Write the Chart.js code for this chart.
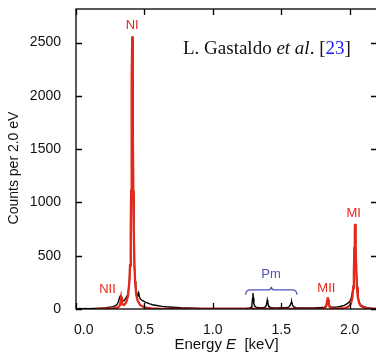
<!DOCTYPE html>
<html>
<head>
<meta charset="utf-8">
<script src="https://cdn.jsdelivr.net/npm/chart.js@4.4.1/dist/chart.umd.min.js"></script>
<style>
  html, body { margin: 0; padding: 0; overflow: hidden; background: #fff; }
  canvas { display: block; }
</style>
</head>
<body>
<canvas id="spectrum" width="378" height="353"></canvas>
<script>
// Spectre mesuré (noir) et modèle (rouge), énergies en keV
const dataEnergy = [0.01, 0.03, 0.05, 0.07, 0.09, 0.11, 0.13, 0.15, 0.17, 0.19, 0.21, 0.23, 0.25, 0.27, 0.285,
  0.30, 0.31, 0.318, 0.324, 0.33, 0.336, 0.343, 0.35, 0.357, 0.365, 0.372, 0.378, 0.384, 0.39, 0.395,
  0.40, 0.403, 0.406, 0.408, 0.411, 0.414, 0.416, 0.419, 0.422, 0.427, 0.432, 0.437, 0.442, 0.447, 0.452,
  0.456, 0.46, 0.466, 0.472, 0.48, 0.49, 0.50, 0.51, 0.525, 0.54, 0.56, 0.58, 0.60, 0.63, 0.66,
  0.70, 0.74, 0.78, 0.82, 0.87, 0.92, 0.97, 1.02, 1.07, 1.12, 1.17, 1.21, 1.25, 1.27, 1.28,
  1.286, 1.29, 1.293, 1.296, 1.30, 1.306, 1.315, 1.33, 1.35, 1.37, 1.385, 1.393, 1.398, 1.402, 1.408,
  1.42, 1.44, 1.47, 1.50, 1.53, 1.555, 1.566, 1.573, 1.577, 1.582, 1.59, 1.61, 1.65, 1.70, 1.75,
  1.79, 1.815, 1.828, 1.835, 1.84, 1.845, 1.852, 1.865, 1.88, 1.90, 1.93, 1.96, 1.98, 2.00, 2.01,
  2.02, 2.026, 2.031, 2.035, 2.038, 2.04, 2.042, 2.045, 2.049, 2.054, 2.06, 2.07, 2.08, 2.10, 2.13,
  2.16, 2.20];
const dataCounts = [2, 4, 3, 5, 3, 4, 6, 5, 8, 7, 11, 14, 18, 22, 30,
  42, 70, 105, 122, 115, 100, 80, 76, 88, 105, 118, 135, 180, 250, 400,
  690, 1070, 1670, 2130, 2540, 2130, 1670, 1080, 710, 410, 260, 180, 128, 118, 140,
  155, 138, 105, 92, 84, 76, 68, 62, 55, 48, 40, 35, 30, 25, 21,
  17, 14, 11, 9, 7, 6, 5, 5, 4, 5, 4, 6, 7, 10, 16,
  40, 95, 150, 105, 50, 28, 18, 14, 12, 13, 20, 45, 85, 60, 28,
  15, 12, 11, 12, 12, 18, 35, 60, 65, 40, 20, 12, 10, 11, 12,
  14, 18, 30, 75, 105, 70, 32, 18, 16, 18, 24, 34, 48, 68, 95,
  150, 215, 350, 565, 745, 790, 745, 565, 350, 210, 122, 65, 40, 22, 12,
  8, 6];

const modelEnergy = [0.15, 0.20, 0.25, 0.28, 0.30, 0.31, 0.32, 0.325, 0.33, 0.335, 0.34, 0.35, 0.36, 0.37,
  0.38, 0.39, 0.395, 0.40, 0.403, 0.406, 0.408, 0.411, 0.414, 0.416, 0.419, 0.422, 0.427, 0.432,
  0.44, 0.45, 0.47, 0.50, 0.55, 0.60, 0.70, 0.80, 1.00, 1.20, 1.40, 1.60, 1.70, 1.75, 1.78, 1.80,
  1.815, 1.825, 1.832, 1.837, 1.84, 1.843, 1.848, 1.855, 1.865, 1.88, 1.90, 1.93, 1.96, 1.98, 2.00,
  2.01, 2.02, 2.026, 2.031, 2.035, 2.038, 2.04, 2.042, 2.045, 2.049, 2.054, 2.06, 2.07, 2.08, 2.10,
  2.13, 2.16, 2.20];
const modelCounts = [1.9, 3.0, 5.2, 8.2, 12.6, 17.5, 32.7, 60.9, 107, 65.5, 42.2, 38.5, 49.7, 73.9,
  125, 257, 412, 738, 1110, 1695, 2162, 2560, 2162, 1695, 1110, 738, 412, 256,
  141, 80, 35.6, 15.8, 6.5, 3.5, 1.5, 0.8, 0.4, 0.1, 0.15, 0.33, 0.64, 1.1, 1.8, 3.3,
  6.9, 16.0, 40.0, 87.6, 109.3, 87.7, 40.2, 16.4, 7.6, 4.4, 3.7, 4.7, 8.2, 14.2, 31.0,
  53.2, 110, 197, 353, 575, 753, 800, 753, 575, 353, 197, 110, 53.1, 30.8, 14.0,
  6.3, 3.5, 2.0];

const xTicks = [0.0, 0.5, 1.0, 1.5, 2.0];
const yTicks = [0, 500, 1000, 1500, 2000, 2500];

const SANS = '"Liberation Sans", Arial, sans-serif';
const SERIF = '"Liberation Serif", "Times New Roman", serif';
const RED = '#e3281c';
const BLUE = '#5252bd';

const toPoints = (xs, ys) => xs.map((x, i) => ({ x: x, y: ys[i] }));

// cadre, graduations internes, étiquettes des raies
const decorations = {
  id: 'decorations',
  afterDraw(chart) {
    const ctx = chart.ctx;
    const a = chart.chartArea;
    const sx = chart.scales.x, sy = chart.scales.y;
    const px = v => sx.getPixelForValue(v);
    const py = v => sy.getPixelForValue(v);
    ctx.save();
    ctx.strokeStyle = '#000';
    ctx.lineWidth = 1.3;
    ctx.strokeRect(a.left, a.top, a.right - a.left, a.bottom - a.top);
    ctx.beginPath();
    xTicks.forEach(v => {
      const x = Math.round(px(v)) + 0.5;
      ctx.moveTo(x, a.bottom); ctx.lineTo(x, a.bottom - 6);
      ctx.moveTo(x, a.top); ctx.lineTo(x, a.top + 6);
    });
    yTicks.forEach(v => {
      const y = Math.round(py(v)) + 0.5;
      ctx.moveTo(a.left, y); ctx.lineTo(a.left + 6, y);
      ctx.moveTo(a.right, y); ctx.lineTo(a.right - 6, y);
    });
    ctx.stroke();

    // noms des raies
    ctx.textAlign = 'center';
    ctx.textBaseline = 'middle';
    ctx.font = '13px ' + SANS;
    ctx.fillStyle = RED;
    ctx.fillText('NI', px(0.411), py(2665));
    ctx.fillText('NII', px(0.23), py(180));
    ctx.fillText('MII', px(1.83), py(197));
    ctx.fillText('MI', px(2.03), py(900));
    ctx.fillStyle = BLUE;
    ctx.fillText('Pm', px(1.425), py(320));

    // accolade Pm
    const x1 = px(1.24), x2 = px(1.615), xc = (x1 + x2) / 2, yb = py(180);
    ctx.strokeStyle = BLUE;
    ctx.lineWidth = 1.3;
    ctx.beginPath();
    ctx.moveTo(x1, yb + 5);
    ctx.quadraticCurveTo(x1, yb, x1 + 5, yb);
    ctx.lineTo(xc - 3, yb);
    ctx.quadraticCurveTo(xc, yb, xc, yb - 3);
    ctx.quadraticCurveTo(xc, yb, xc + 3, yb);
    ctx.lineTo(x2 - 5, yb);
    ctx.quadraticCurveTo(x2, yb, x2, yb + 5);
    ctx.stroke();

    // référence
    ctx.textAlign = 'left';
    ctx.textBaseline = 'alphabetic';
    let x = 183;
    const yr = 54;
    const parts = [
      ['L. Gastaldo ', '19px ' + SERIF, '#111'],
      ['et al', 'italic 19px ' + SERIF, '#111'],
      ['. [', '19px ' + SERIF, '#111'],
      ['23', '19px ' + SERIF, '#1a1aff'],
      [']', '19px ' + SERIF, '#111']
    ];
    parts.forEach(([t, f, c]) => {
      ctx.font = f; ctx.fillStyle = c;
      ctx.fillText(t, x, yr);
      x += ctx.measureText(t).width;
    });

    // titres des axes
    ctx.fillStyle = '#111';
    const t1 = 'Energy ', t2 = 'E', t3 = '  [keV]';
    ctx.font = '15px ' + SANS; const w1 = ctx.measureText(t1).width, w3 = ctx.measureText(t3).width;
    ctx.font = 'italic 15px ' + SANS; const w2 = ctx.measureText(t2).width;
    let xt = (a.left + a.right) / 2 - (w1 + w2 + w3) / 2;
    ctx.textBaseline = 'middle';
    ctx.font = '15px ' + SANS; ctx.fillText(t1, xt, 345); xt += w1;
    ctx.font = 'italic 15px ' + SANS; ctx.fillText(t2, xt, 345); xt += w2;
    ctx.font = '15px ' + SANS; ctx.fillText(t3, xt, 345);

    ctx.translate(14, 168);
    ctx.rotate(-Math.PI / 2);
    ctx.textAlign = 'center';
    ctx.font = '14px ' + SANS;
    ctx.fillText('Counts per 2.0 eV', 0, 0);
    ctx.restore();
  }
};

new Chart(document.getElementById('spectrum'), {
  type: 'line',
  data: {
    datasets: [
      {
        label: 'Gastaldo et al.',
        data: toPoints(dataEnergy, dataCounts),
        borderColor: '#000',
        borderWidth: 1.4,
        pointRadius: 0,
        tension: 0,
        order: 1
      },
      {
        label: 'Modèle',
        data: toPoints(modelEnergy, modelCounts),
        borderColor: RED,
        borderWidth: 2.3,
        pointRadius: 0,
        tension: 0,
        order: 0
      }
    ]
  },
  options: {
    responsive: false,
    animation: false,
    layout: { padding: { left: 0, right: 1, top: 9, bottom: 0 } },
    plugins: { legend: { display: false }, tooltip: { enabled: false } },
    scales: {
      x: {
        type: 'linear',
        min: 0,
        max: 2.2,
        afterFit: s => { s.height = 44; s.paddingLeft = 0; s.paddingRight = 0; },
        afterBuildTicks: s => { s.ticks = xTicks.map(v => ({ value: v })); },
        grid: { display: false },
        border: { display: false },
        ticks: {
          padding: 5,
          color: '#111',
          font: { family: SANS, size: 14 },
          callback: v => (v === 0 ? '    0.0' : v.toFixed(1))
        }
      },
      y: {
        min: 0,
        max: 2815,
        afterFit: s => { s.width = 76; s.paddingTop = 0; s.paddingBottom = 0; },
        afterBuildTicks: s => { s.ticks = yTicks.map(v => ({ value: v })); },
        grid: { display: false },
        border: { display: false },
        ticks: {
          padding: 7,
          color: '#111',
          font: { family: SANS, size: 14 },
          callback: v => String(v)
        }
      }
    }
  },
  plugins: [decorations]
});
</script>
</body>
</html>
